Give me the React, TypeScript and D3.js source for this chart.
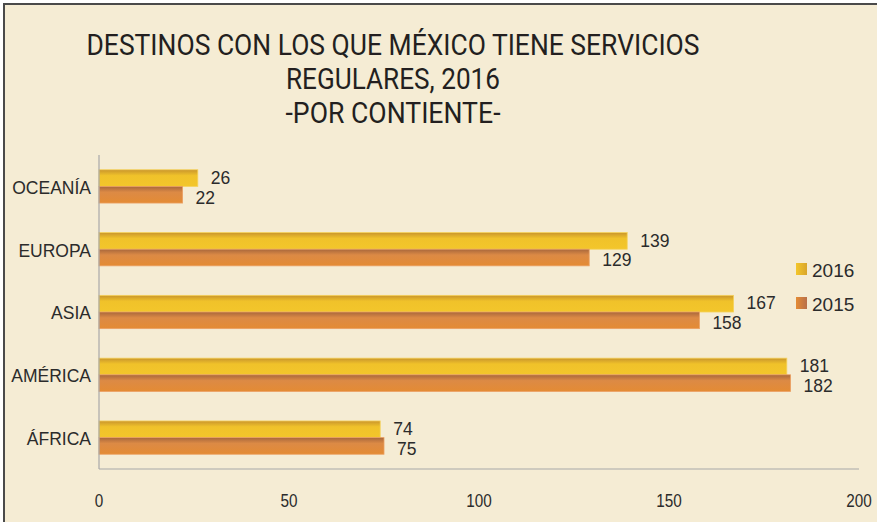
import React, { useEffect, useRef } from 'react';
import * as d3 from 'd3';

const categories = ['OCEANÍA', 'EUROPA', 'ASIA', 'AMÉRICA', 'ÁFRICA'];
const values2016 = [26, 139, 167, 181, 74];
const values2015 = [22, 129, 158, 182, 75];
const seriesNames = ['2016', '2015'];
const xTicks = [0, 50, 100, 150, 200];
const titleLines = [
  'DESTINOS CON LOS QUE MÉXICO TIENE SERVICIOS',
  'REGULARES, 2016',
  '-POR CONTIENTE-',
];

const App = ({ width = 877, height = 522 }) => {
  const chart = useRef<SVGSVGElement>(null);

  useEffect(() => {
    const margin = { top: 155, left: 99, bottom: 53, right: 18 };
    const iwidth = width - margin.left - margin.right;
    const iheight = height - margin.top - margin.bottom;
    const font = '"Liberation Sans", Arial, sans-serif';

    const svg = d3.select(chart.current);
    svg.selectAll('*').remove();
    svg.attr('width', width).attr('height', height);

    // background + frame
    svg.append('rect').attr('width', width).attr('height', height).attr('fill', '#ffffff');
    svg.append('rect')
      .attr('x', 4).attr('y', 4)
      .attr('width', width + 10).attr('height', height + 10)
      .attr('fill', '#F5ECD4')
      .attr('stroke', '#4a4a4a')
      .attr('stroke-width', 2);

    const defs = svg.append('defs');
    const grad = (id: string, top: string, mid: string, bottom: string) => {
      const lg = defs.append('linearGradient').attr('id', id)
        .attr('x1', 0).attr('y1', 0).attr('x2', 0).attr('y2', 1);
      lg.append('stop').attr('offset', '0%').attr('stop-color', top);
      lg.append('stop').attr('offset', '35%').attr('stop-color', mid);
      lg.append('stop').attr('offset', '100%').attr('stop-color', bottom);
    };
    grad('g2016', '#C9952C', '#F0C22A', '#F3C62B');
    grad('g2015', '#A8673C', '#DC8A45', '#E48B34');
    const lgGrad = (id: string, a: string, b: string) => {
      const lg = defs.append('linearGradient').attr('id', id)
        .attr('x1', 0).attr('y1', 0).attr('x2', 1).attr('y2', 0);
      lg.append('stop').attr('offset', '0%').attr('stop-color', a);
      lg.append('stop').attr('offset', '100%').attr('stop-color', b);
    };
    lgGrad('l2016', '#F3C62B', '#D9A52A');
    lgGrad('l2015', '#E48B34', '#B8704A');
    const fills = ['url(#g2016)', 'url(#g2015)'];
    const legendFills = ['url(#l2016)', 'url(#l2015)'];

    // title
    const title = svg.append('g')
      .attr('font-family', 'Roboto, sans-serif')
      .attr('fill', '#231F20')
      .attr('font-size', 29);
    const titleWidths = [613, 214, 215];
    titleLines.forEach((t, i) => {
      title.append('text')
        .attr('x', 393)
        .attr('y', 55 + i * 34)
        .attr('text-anchor', 'middle')
        .attr('textLength', titleWidths[i])
        .attr('lengthAdjust', 'spacingAndGlyphs')
        .text(t);
    });

    const g = svg.append('g')
      .attr('transform', `translate(${margin.left},${margin.top})`);

    const x = d3.scaleLinear().domain([0, 200]).range([0, iwidth]);
    const y = d3.scaleBand().domain(categories).range([0, iheight]).paddingInner(0.47).paddingOuter(0.235);
    const ys = d3.scaleBand().domain(seriesNames).range([0, y.bandwidth()]);

    const rows = categories.map((c, i) => ({ c, vals: [values2016[i], values2015[i]] }));

    const row = g.selectAll('g.row').data(rows).enter().append('g')
      .attr('class', 'row')
      .attr('transform', d => `translate(0,${y(d.c)})`);

    seriesNames.forEach((s, si) => {
      row.append('rect')
        .attr('x', 0)
        .attr('y', ys(s)!)
        .attr('width', d => x(d.vals[si]))
        .attr('height', ys.bandwidth())
        .attr('fill', fills[si])
        .attr('stroke', si === 0 ? '#F6D35A' : '#EBA063')
        .attr('stroke-width', 0.8);
      row.append('text')
        .attr('x', d => x(d.vals[si]) + 13)
        .attr('y', ys(s)! + ys.bandwidth() / 2 + (si === 0 ? -0.5 : 2.5))
        .attr('dy', '0.36em')
        .attr('font-family', font)
        .attr('font-size', 17.5)
        .attr('fill', '#2b2b2b')
        .text(d => d.vals[si]);
    });

    // category labels
    g.selectAll('text.cat').data(categories).enter().append('text')
      .attr('class', 'cat')
      .attr('x', -8)
      .attr('y', d => y(d)! + y.bandwidth() / 2 + 1)
      .attr('dy', '0.36em')
      .attr('text-anchor', 'end')
      .attr('font-family', font)
      .attr('font-size', 17.5)
      .attr('fill', '#2b2b2b')
      .text(d => d);

    // axis lines
    g.append('line')
      .attr('x1', 0).attr('x2', 0).attr('y1', 0).attr('y2', iheight)
      .attr('stroke', '#a8a8a8').attr('stroke-width', 1.2);
    g.append('line')
      .attr('x1', 0).attr('x2', iwidth).attr('y1', iheight).attr('y2', iheight)
      .attr('stroke', '#a8a8a8').attr('stroke-width', 1.2);

    // x tick labels
    g.selectAll('text.tick').data(xTicks).enter().append('text')
      .attr('class', 'tick')
      .attr('x', d => x(d))
      .attr('y', iheight + 38)
      .attr('text-anchor', 'middle')
      .attr('font-family', font)
      .attr('font-size', 18)
      .attr('fill', '#2b2b2b')
      .attr('transform', d => `translate(${x(d)},0) scale(0.85,1) translate(${-x(d)},0)`)
      .text(d => d);

    // legend
    const legend = svg.append('g').attr('transform', 'translate(796,263)');
    seriesNames.forEach((s, i) => {
      legend.append('rect')
        .attr('x', 0).attr('y', i * 34)
        .attr('width', 11).attr('height', 12)
        .attr('fill', legendFills[i]);
      legend.append('text')
        .attr('x', 16).attr('y', i * 33.5 + 14.3)
        .attr('font-family', font)
        .attr('font-size', 19)
        .attr('fill', '#2b2b2b')
        .text(s);
    });
  });

  return (
    <div style={{ position: 'absolute', left: 0, top: 0 }}>
      <svg ref={chart}></svg>
    </div>
  );
};

export default App;
